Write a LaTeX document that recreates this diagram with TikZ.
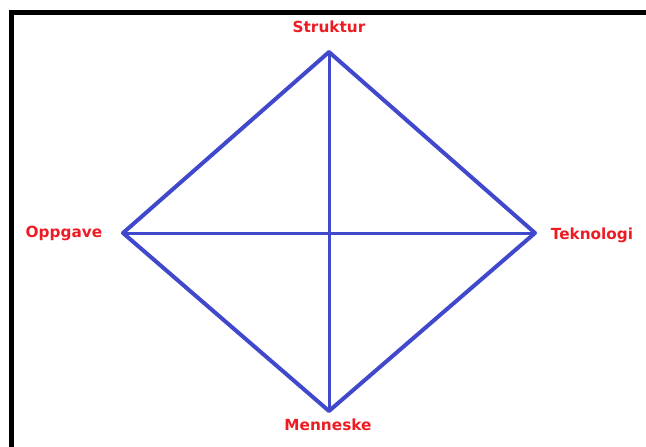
\documentclass[tikz,border=0pt]{standalone}
\usepackage{fontspec}
\setmainfont{DejaVu Sans}
\definecolor{linjeblaa}{RGB}{64,72,204}
\definecolor{etikettrod}{RGB}{237,28,36}
\tikzset{
  kant/.style={color=linjeblaa, line width=4pt, line join=round, line cap=round},
  kryss/.style={color=linjeblaa, line width=3pt},
  etikett/.style={text=etikettrod, font=\fontsize{15.3}{18}\selectfont\bfseries, inner sep=0pt}
}
\begin{document}
\begin{tikzpicture}[x=1pt, y=-1pt]
        \useasboundingbox (0,0) rectangle (646,447);
        \draw[color = black, line width=5pt] (11.5,447) -- (11.5,12.5) -- (646,12.5);
        \coordinate (s) at (329,52);
        \coordinate (o) at (123,233);
        \coordinate (t) at (535,233);
        \coordinate (m) at (329,411);
        \draw[kryss] (s) -- (m);
        \draw[kryss] (o) -- (t);
        \draw[kant] (s) -- (t) -- (m) -- (o) -- cycle;
        \node[etikett] (struktur) at (329,27) {Struktur};
        \node[etikett] (oppgave) at (64,233) {Oppgave};
        \node[etikett] (teknologi) at (592,235) {Teknologi};
        \node[etikett] (menneske) at (328,425) {Menneske};
\end{tikzpicture}
\end{document}
